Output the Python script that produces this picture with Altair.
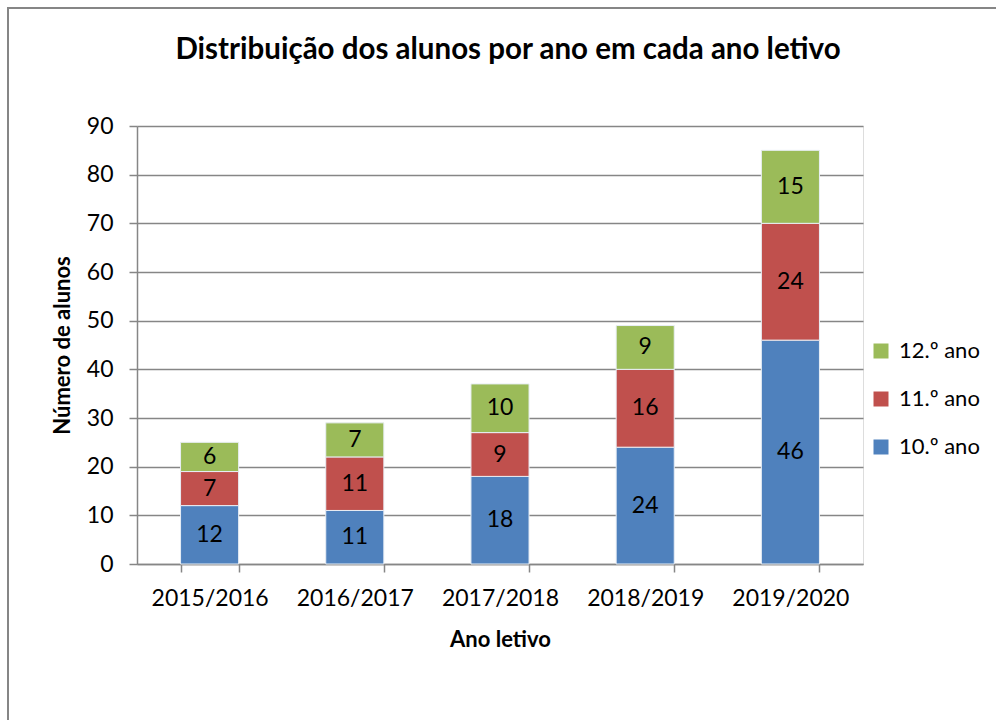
import altair as alt
import pandas as pd

anos_letivos = ["2015/2016", "2016/2017", "2017/2018", "2018/2019", "2019/2020"]
series = ["10.º ano", "11.º ano", "12.º ano"]
valores_10 = [12, 11, 18, 24, 46]
valores_11 = [7, 11, 9, 16, 24]
valores_12 = [6, 7, 10, 9, 15]
cores = ["#4F81BD", "#C0504D", "#9BBB59"]
y_ticks = [0, 10, 20, 30, 40, 50, 60, 70, 80, 90]
titulo = "Distribuição dos alunos por ano em cada ano letivo"

rows = []
for s_i, (s, vals) in enumerate(zip(series, [valores_10, valores_11, valores_12])):
    for a, v in zip(anos_letivos, vals):
        rows.append({"Ano letivo": a, "Série": s, "Alunos": v, "ordem": s_i})
df = pd.DataFrame(rows)
single = pd.DataFrame({"titulo": [titulo]})

FONT = "Lato"
GRAY = "#868686"
FS = 23

base = alt.Chart(df).transform_stack(
    stack="Alunos", groupby=["Ano letivo"], as_=["y0", "y1"],
    sort=[alt.SortField("ordem", order="ascending")]
).transform_calculate(ymid="(datum.y0 + datum.y1) / 2")

x_enc = alt.X("Ano letivo:N", sort=anos_letivos,
              scale=alt.Scale(paddingInner=0.6, paddingOuter=0.3),
              axis=alt.Axis(title="Ano letivo", labelAngle=0, tickBand="extent",
                            domainColor=GRAY, domainWidth=1.5, tickColor=GRAY,
                            tickWidth=1.5, tickSize=8, labelFontSize=FS,
                            labelFont=FONT, labelColor="black", labelPadding=15,
                            titleFont=FONT, titleFontSize=FS - 1, titleFontWeight="bold",
                            titleColor="black", titlePadding=19, grid=False))

bars = base.mark_bar(stroke="#e8eef5", strokeWidth=1).encode(
    x=x_enc,
    y=alt.Y("y0:Q", scale=alt.Scale(domain=[0, 90], nice=False),
            axis=alt.Axis(title="Número de alunos", values=y_ticks,
                          domainColor=GRAY, domainWidth=1.5, tickColor=GRAY,
                          tickWidth=1.5, tickSize=8, gridColor=GRAY,
                          gridWidth=1.5, labelFontSize=FS, labelFont=FONT,
                          labelColor="black", labelPadding=16, titleFont=FONT,
                          titleFontSize=FS - 1, titleFontWeight="bold",
                          titleColor="black", titlePadding=12)),
    y2="y1:Q",
    color=alt.Color("Série:N",
                    scale=alt.Scale(domain=series[::-1], range=cores[::-1]),
                    legend=alt.Legend(title=None, orient="none", legendX=733,
                                      legendY=214, symbolType="square",
                                      symbolSize=225, symbolStrokeWidth=0,
                                      labelFontSize=FS - 1, labelFont=FONT,
                                      labelColor="black", rowPadding=26,
                                      labelOffset=7)),
    order=alt.Order("ordem:Q"),
)

labels = base.mark_text(fontSize=FS, font=FONT, color="black").encode(
    x=alt.X("Ano letivo:N", sort=anos_letivos),
    y=alt.Y("ymid:Q"),
    text=alt.Text("Alunos:Q"),
)

frame = alt.Chart(single).mark_rect(fill=None, stroke=GRAY, strokeWidth=2).encode(
    x=alt.value(-129), x2=alt.value(1200), y=alt.value(-118), y2=alt.value(900)
)

title_mark = alt.Chart(single).mark_text(
    font=FONT, fontSize=29.5, fontWeight="bold", color="black",
    align="center", baseline="middle"
).encode(x=alt.value(371), y=alt.value(-76), text=alt.Text("titulo:N"))

chart = alt.layer(frame, bars, labels, title_mark).properties(
    width=726, height=438,
    autosize=alt.AutoSizeParams(type="none"),
    padding={"left": 137, "top": 126, "right": 133, "bottom": 156},
).configure_view(stroke=None).configure(background="white")

chart.save("out.html", embed_options={"renderer": "svg", "actions": False})
